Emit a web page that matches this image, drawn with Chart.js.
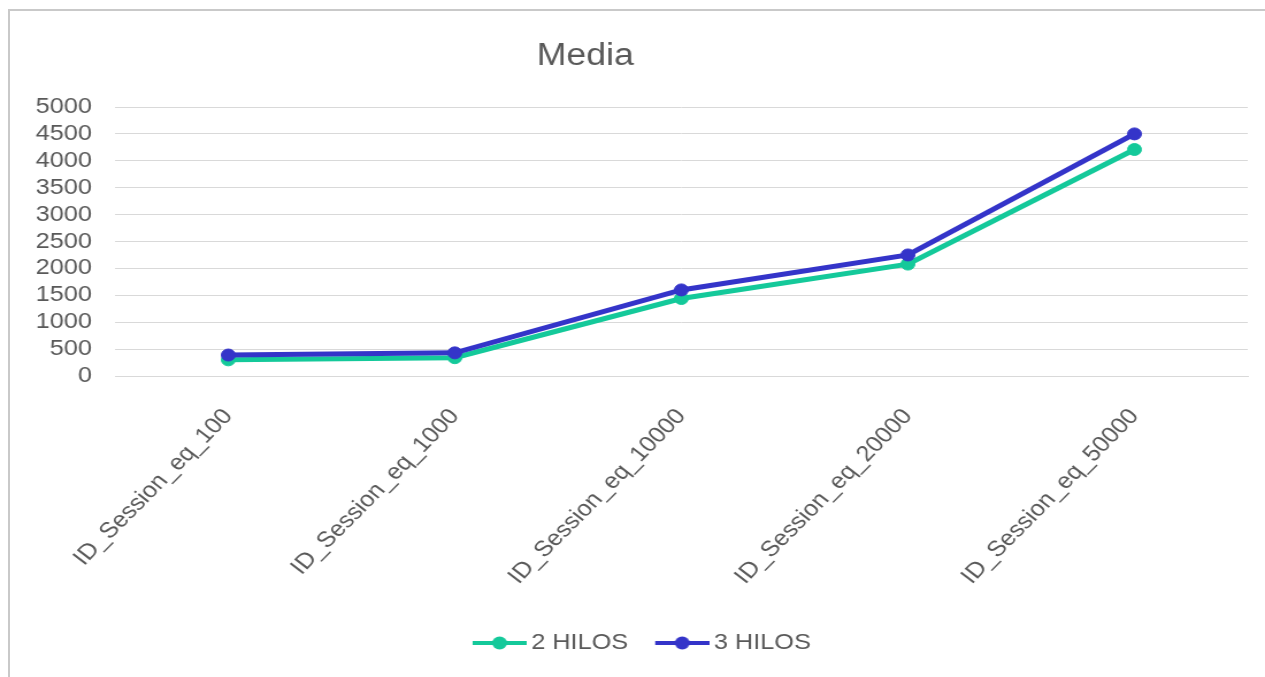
<!DOCTYPE html>
<html>
<head>
<meta charset="utf-8">
<script src="https://cdn.jsdelivr.net/npm/chart.js@4.4.0/dist/chart.umd.min.js"></script>
<style>
  html, body { margin: 0; padding: 0; background: #fff; overflow: hidden; }
  body { width: 1265px; height: 677px; position: relative; }
  #frame {
    position: absolute; left: 8px; top: 9px; right: 0; bottom: 0;
    border-left: 2px solid #c9c9c9; border-top: 2px solid #c9c9c9;
  }
  /* the reference is stretched horizontally, so draw narrower and stretch */
  #wrap {
    position: absolute; left: 0; top: 0; width: 1100px; height: 677px;
    transform: scaleX(1.15); transform-origin: 0 0;
  }
</style>
</head>
<body>
<div id="frame"></div>
<div id="wrap"><canvas id="line"></canvas></div>
<script>
  // categories and series
  const categories = ['ID_Session_eq_100', 'ID_Session_eq_1000', 'ID_Session_eq_10000', 'ID_Session_eq_20000', 'ID_Session_eq_50000'];
  const hilos2 = [300, 340, 1440, 2080, 4210];
  const hilos3 = [390, 430, 1600, 2250, 4500];
  const seriesNames = ['2 HILOS', '3 HILOS'];
  const titleText = 'Media';

  const GREEN = '#14c99a';
  const BLUE = '#3434c9';
  const TEXT = '#595959';
  const FONT = "'Liberation Sans', Arial, sans-serif";

  // legend marker: short line with a dot, like the spreadsheet legend
  // (7px of empty space on the left so it lines up with the text gap)
  function legendMarker(color) {
    const c = document.createElement('canvas');
    c.width = 54; c.height = 14;
    const g = c.getContext('2d');
    g.strokeStyle = color;
    g.lineWidth = 4;
    g.beginPath(); g.moveTo(7, 7); g.lineTo(54, 7); g.stroke();
    g.fillStyle = color;
    g.beginPath(); g.arc(30.5, 7, 6.5, 0, Math.PI * 2); g.fill();
    return c;
  }
  const markers = [legendMarker(GREEN), legendMarker(BLUE)];

  // title drawn a bit left of centre, as in the reference
  const titlePlugin = {
    id: 'leftTitle',
    afterDraw(chart) {
      const ctx = chart.ctx;
      ctx.save();
      ctx.font = '31px ' + FONT;
      ctx.fillStyle = TEXT;
      ctx.textAlign = 'center';
      ctx.textBaseline = 'alphabetic';
      ctx.fillText(titleText, 509, 65);
      ctx.restore();
    }
  };

  const lineConfig = {
    type: 'line',
    data: {
      labels: categories,
      datasets: [
        {
          label: seriesNames[0],
          data: hilos2,
          borderColor: GREEN,
          backgroundColor: GREEN,
          pointBackgroundColor: GREEN,
          pointBorderColor: GREEN,
          borderWidth: 5,
          pointRadius: 6,
          pointBorderWidth: 1,
          fill: false,
          tension: 0,
          order: 1,
        },
        {
          label: seriesNames[1],
          data: hilos3,
          borderColor: BLUE,
          backgroundColor: BLUE,
          pointBackgroundColor: BLUE,
          pointBorderColor: BLUE,
          borderWidth: 5,
          pointRadius: 6,
          pointBorderWidth: 1,
          fill: false,
          tension: 0,
          order: 0,
        },
      ],
    },
    options: {
      responsive: true,
      maintainAspectRatio: false,
      animation: false,
      devicePixelRatio: 1,
      layout: { padding: { top: 107, left: 31, right: 15, bottom: 13 } },
      plugins: {
        title: { display: false },
        tooltip: { enabled: false },
        legend: {
          display: true,
          position: 'bottom',
          labels: {
            usePointStyle: true,
            pointStyleWidth: 40,
            padding: 23.5,
            color: TEXT,
            font: { family: FONT, size: 22 },
            sort: (a, b) => a.datasetIndex - b.datasetIndex,
            generateLabels(chart) {
              const items = Chart.defaults.plugins.legend.labels.generateLabels(chart);
              items.forEach(it => { it.pointStyle = markers[it.datasetIndex]; });
              return items;
            },
          },
        },
      },
      scales: {
        x: {
          offset: true,
          grid: { display: false, drawTicks: false },
          border: { display: true, color: '#d9d9d9', width: 1 },
          ticks: {
            color: TEXT,
            font: { family: FONT, size: 22 },
            minRotation: 49,
            maxRotation: 49,
            padding: 28,
            autoSkip: false,
          },
          afterFit(scale) { scale.height = 232.5; },
        },
        y: {
          min: 0,
          max: 5000,
          grid: { color: '#d9d9d9', drawTicks: false, lineWidth: 1 },
          border: { display: false },
          ticks: {
            stepSize: 500,
            autoSkip: false,
            color: TEXT,
            font: { family: FONT, size: 22 },
            padding: 20,
            callback: v => String(v),
          },
          afterFit(scale) { scale.width = 69; },
        },
      },
    },
    plugins: [titlePlugin],
  };

  const lineCtx = document.getElementById('line');
  window.myLine = new Chart(lineCtx, lineConfig);
</script>
</body>
</html>
